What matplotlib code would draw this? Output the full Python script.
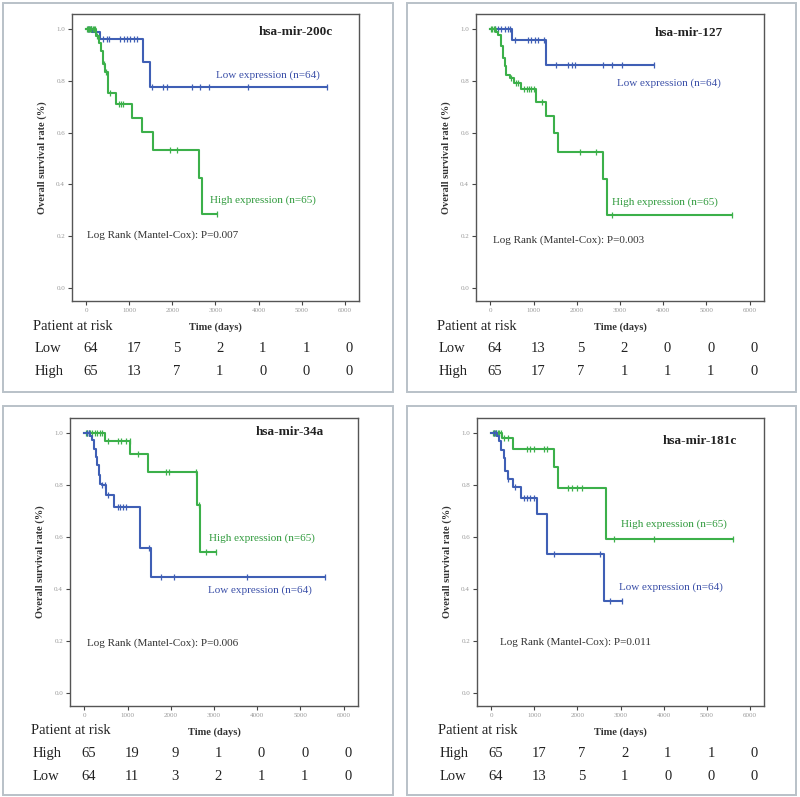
import numpy as np
import matplotlib.pyplot as plt
from matplotlib.patches import Rectangle
from matplotlib.transforms import blended_transform_factory

plt.rcParams['font.family'] = ['Liberation Serif', 'DejaVu Serif']

BLUE = '#3f5fb5'
GREEN = '#3cb04a'

risk_times = [0, 1000, 2000, 3000, 4000, 5000, 6000]

# hsa-mir-200c
mir200c_low_t = [130, 330, 1320, 1470]
mir200c_low_s = [0.987, 0.961, 0.874, 0.777]
mir200c_low_cens = [40, 70, 100, 400, 480, 520, 790, 870, 940, 1020, 1100, 1170,
                    1520, 1790, 1870, 2450, 2640, 2840, 3760, 5590]
mir200c_high_t = [235, 285, 340, 380, 440, 505, 680, 1065, 1300, 1555, 2610, 2695]
mir200c_high_s = [0.974, 0.945, 0.916, 0.865, 0.833, 0.754, 0.71, 0.655, 0.602, 0.533, 0.425, 0.286]
mir200c_high_cens = [20, 40, 60, 80, 100, 120, 150, 180, 210, 260, 420, 460, 560,
                     760, 810, 860, 1950, 2100, 3030]
mir200c_risk_low = [64, 17, 5, 2, 1, 1, 0]
mir200c_risk_high = [65, 13, 7, 1, 0, 0, 0]

# hsa-mir-127
mir127_low_t = [510, 1285]
mir127_low_s = [0.956, 0.86]
mir127_low_cens = [100, 180, 255, 330, 410, 450, 565, 875, 950, 1030, 1110, 1240,
                   1530, 1800, 1880, 1960, 2615, 2810, 3040, 3794]
mir127_high_t = [140, 180, 240, 295, 335, 372, 460, 550, 700, 1060, 1300, 1475, 1555, 2605, 2700]
mir127_high_s = [0.99, 0.978, 0.933, 0.888, 0.856, 0.824, 0.811, 0.792, 0.768, 0.718,
                 0.666, 0.6, 0.524, 0.42, 0.282]
mir127_high_cens = [20, 50, 80, 110, 480, 600, 640, 780, 840, 900, 950, 1000, 1190,
                    2075, 2450, 2810, 5590]
mir127_risk_low = [64, 13, 5, 2, 0, 0, 0]
mir127_risk_high = [65, 17, 7, 1, 1, 1, 0]

# hsa-mir-34a
mir34a_high_t = [490, 1067, 1482, 2604, 2681]
mir34a_high_s = [0.97, 0.919, 0.85, 0.725, 0.543]
mir34a_high_cens = [40, 70, 100, 140, 190, 240, 290, 360, 420, 546, 776, 853, 969, 1046,
                    1236, 1889, 1950, 2581, 2650, 2811, 3042]
mir34a_low_t = [138, 184, 222, 261, 292, 330, 369, 407, 507, 690, 1300, 1550]
mir34a_low_s = [0.99, 0.975, 0.94, 0.908, 0.876, 0.838, 0.805, 0.799, 0.76, 0.715, 0.558, 0.446]
mir34a_low_cens = [60, 100, 420, 470, 560, 780, 820, 890, 960, 1500, 1775, 2082, 3772, 5578]
mir34a_risk_high = [65, 19, 9, 1, 0, 0, 0]
mir34a_risk_low = [64, 11, 3, 2, 1, 1, 0]

# hsa-mir-181c
mir181c_high_t = [248, 496, 1464, 1541, 2668]
mir181c_high_s = [0.982, 0.94, 0.868, 0.787, 0.591]
mir181c_high_cens = [30, 60, 90, 120, 150, 190, 230, 300, 380, 828, 906, 983, 1216, 1293,
                     1781, 1874, 1990, 2106, 2842, 3771, 5600]
mir181c_low_t = [132, 186, 232, 286, 325, 379, 510, 700, 1061, 1293, 2610]
mir181c_low_s = [0.988, 0.969, 0.936, 0.904, 0.855, 0.824, 0.792, 0.752, 0.687, 0.535, 0.354]
mir181c_low_cens = [60, 100, 400, 560, 751, 828, 906, 983, 1448, 2532, 2764, 3036]
mir181c_risk_high = [65, 17, 7, 2, 1, 1, 0]
mir181c_risk_low = [64, 13, 5, 1, 0, 0, 0]

W, H = 800, 797


def km_curve(ax, t, s, cens, color):
    t = np.asarray(t, float)
    s = np.asarray(s, float)
    end = max(cens)
    xs = np.concatenate([[0], t, [end]])
    ys = np.concatenate([[1.0], s, [s[-1]]])
    ax.step(xs, ys, where='post', color=color, lw=1.5)
    # 删失标记
    cens = np.asarray(cens, float)
    idx = np.searchsorted(t, cens, side='right')
    cy = np.where(idx == 0, 1.0, s[np.maximum(idx - 1, 0)])
    ax.plot(cens, cy, ls='none', marker='|', ms=4.5, mew=0.9, color=color)


def panel(box, ax_px, title, title_xy, p_text, p_xy, curves, labels, rows):
    # 外框
    fx0, fy0, fx1, fy1 = box
    fig.add_artist(Rectangle((fx0 / W, 1 - fy1 / H), (fx1 - fx0) / W, (fy1 - fy0) / H,
                             transform=fig.transFigure, fill=False,
                             ec='#b9c1c8', lw=1.4))
    l, t, r, b = ax_px
    ax = fig.add_axes([l / W, 1 - b / H, (r - l) / W, (b - t) / H])
    for c in curves:
        km_curve(ax, *c)
    ax.set_xlim(-330, 6330)
    ax.set_ylim(-0.05, 1.058)
    ax.set_xticks(risk_times)
    ax.set_yticks([0.0, 0.2, 0.4, 0.6, 0.8, 1.0])
    ax.set_yticklabels(['0.0', '0.2', '0.4', '0.6', '0.8', '1.0'])
    ax.tick_params(labelsize=5, labelcolor='#999999', length=3, width=0.8, color='#444444', pad=2)
    for sp in ax.spines.values():
        sp.set_color('#555555')
        sp.set_linewidth(1.0)
    ax.set_ylabel('Overall survival rate (%)', fontsize=7.5, fontweight='bold', color='#333333')
    ax.yaxis.set_label_coords(-25 / (r - l), 0.5)
    ax.text(title_xy[0], title_xy[1], title, transform=ax.transAxes, ha='right', va='center',
            fontsize=9.5, fontweight='bold', color='#222222')
    ax.text(p_xy[0], p_xy[1], p_text, ha='left', va='center', fontsize=8, color='#333333')
    for txt, x, y, col in labels:
        ax.text(x, y, txt, ha='center', va='center', fontsize=8, color=col)

    # 风险表
    tr = blended_transform_factory(ax.transData, fig.transFigure)
    fig.text((l - 39) / W, 1 - (b + 25) / H, 'Patient at risk', ha='left', va='center',
             fontsize=10.5, color='#222222')
    ax.text(3000, 1 - (b + 26) / H, 'Time (days)', transform=tr, ha='center', va='center',
            fontsize=7.5, fontweight='bold', color='#333333')
    for i, (name, vals) in enumerate(rows):
        yy = 1 - (b + 47.5 + 23 * i) / H
        fig.text((l - 37) / W, yy, name, ha='left', va='center', fontsize=10.5, color='#222222')
        for x, v in zip(risk_times, vals):
            ax.text(x + 100, yy, str(v), transform=tr, ha='center', va='center',
                    fontsize=10.5, color='#222222')
    return ax


fig = plt.figure(figsize=(W / 100, H / 100), dpi=100)

panel((3, 3, 393, 392), (72, 14, 359, 301), 'hsa-mir-200c', (0.909, 0.937),
      'Log Rank (Mantel-Cox): P=0.007', (20, 0.205),
      [(mir200c_low_t, mir200c_low_s, mir200c_low_cens, BLUE),
       (mir200c_high_t, mir200c_high_s, mir200c_high_cens, GREEN)],
      [('Low expression (n=64)', 4217, 0.822, '#3a4fa8'),
       ('High expression (n=65)', 4090, 0.34, '#2f9a3c')],
      [('Low', mir200c_risk_low), ('High', mir200c_risk_high)])

panel((407, 3, 796, 392), (476, 14, 764, 301), 'hsa-mir-127', (0.857, 0.933),
      'Log Rank (Mantel-Cox): P=0.003', (60, 0.185),
      [(mir127_low_t, mir127_low_s, mir127_low_cens, BLUE),
       (mir127_high_t, mir127_high_s, mir127_high_cens, GREEN)],
      [('Low expression (n=64)', 4142, 0.79, '#3a4fa8'),
       ('High expression (n=65)', 4049, 0.33, '#2f9a3c')],
      [('Low', mir127_risk_low), ('High', mir127_risk_high)])

panel((3, 406, 393, 795), (70, 418, 358, 706), 'hsa-mir-34a', (0.88, 0.951),
      'Log Rank (Mantel-Cox): P=0.006', (60, 0.193),
      [(mir34a_high_t, mir34a_high_s, mir34a_high_cens, GREEN),
       (mir34a_low_t, mir34a_low_s, mir34a_low_cens, BLUE)],
      [('High expression (n=65)', 4110, 0.597, '#2f9a3c'),
       ('Low expression (n=64)', 4059, 0.397, '#3a4fa8')],
      [('High', mir34a_risk_high), ('Low', mir34a_risk_low)])

panel((407, 406, 796, 795), (477, 418, 764, 706), 'hsa-mir-181c', (0.907, 0.919),
      'Log Rank (Mantel-Cox): P=0.011', (193, 0.194),
      [(mir181c_high_t, mir181c_high_s, mir181c_high_cens, GREEN),
       (mir181c_low_t, mir181c_low_s, mir181c_low_cens, BLUE)],
      [('High expression (n=65)', 4235, 0.65, '#2f9a3c'),
       ('Low expression (n=64)', 4177, 0.408, '#3a4fa8')],
      [('High', mir181c_risk_high), ('Low', mir181c_risk_low)])

fig.savefig('out.png', dpi=100)
